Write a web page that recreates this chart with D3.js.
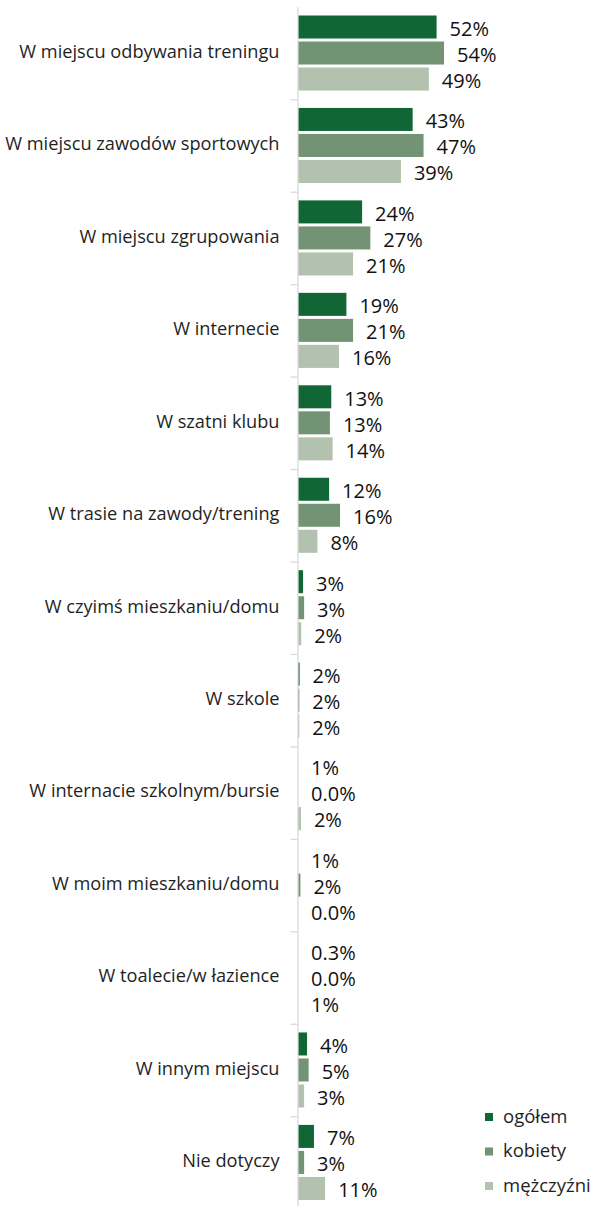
<!DOCTYPE html>
<html>
<head>
<meta charset="utf-8">
<script src="https://cdn.jsdelivr.net/npm/d3@7"></script>
<style>
  html, body { margin: 0; padding: 0; background: #ffffff; }
  svg { display: block; }
</style>
</head>
<body>
<script>
const categories = [
  "W miejscu odbywania treningu",
  "W miejscu zawodów sportowych",
  "W miejscu zgrupowania",
  "W internecie",
  "W szatni klubu",
  "W trasie na zawody/trening",
  "W czyimś mieszkaniu/domu",
  "W szkole",
  "W internacie szkolnym/bursie",
  "W moim mieszkaniu/domu",
  "W toalecie/w łazience",
  "W innym miejscu",
  "Nie dotyczy"
];
const seriesNames = ["ogółem", "kobiety", "mężczyźni"];
// bar lengths (%)
const ogolem    = [52.1, 43.1, 24.1, 18.2, 12.5, 11.7, 1.9, 0.6, 0, 0, 0, 3.4, 6.0];
const kobiety   = [54.9, 47.2, 27.2, 20.7, 12.0, 15.8, 2.3, 0.5, 0, 0.9, 0, 4.0, 2.3];
const mezczyzni = [49.2, 38.7, 20.7, 15.4, 13.0, 7.3, 1.2, 0.5, 1.1, 0, 0, 2.3, 10.2];
// data labels as printed
const ogolemLabels    = ["52%","43%","24%","19%","13%","12%","3%","2%","1%","1%","0.3%","4%","7%"];
const kobietyLabels   = ["54%","47%","27%","21%","13%","16%","3%","2%","0.0%","2%","0.0%","5%","3%"];
const mezczyzniLabels = ["49%","39%","21%","16%","14%","8%","2%","2%","2%","0.0%","1%","3%","11%"];

const colors = ["#106635", "#739474", "#b2c2ae"];

const W = 592, H = 1206;
const axisX = 297.5;
const topY = 6.8, step = 92.45;

const svg = d3.select("body").append("svg")
  .attr("width", W).attr("height", H)
  .style("font-family", "'Open Sans', 'Noto Sans', sans-serif");

const series = [
  { name: seriesNames[0], values: ogolem, labels: ogolemLabels, color: colors[0] },
  { name: seriesNames[1], values: kobiety, labels: kobietyLabels, color: colors[1] },
  { name: seriesNames[2], values: mezczyzni, labels: mezczyzniLabels, color: colors[2] }
];

const x = d3.scaleLinear().domain([0, 100]).range([axisX + 0.5, axisX + 0.5 + 266]);
const y0 = d3.scaleBand().domain(categories).range([topY, topY + step * categories.length]);
const y1 = d3.scaleBand().domain(seriesNames).range([8.7, step - 8.7]).paddingInner(3 / 26);

// bars
const groups = svg.append("g").selectAll("g")
  .data(categories)
  .join("g")
  .attr("transform", d => `translate(0,${y0(d)})`);

series.forEach(s => {
  groups.append("rect")
    .attr("x", x(0))
    .attr("y", y1(s.name))
    .attr("height", y1.bandwidth())
    .attr("width", (d, i) => x(s.values[i]) - x(0))
    .attr("fill", s.color);
  groups.append("text")
    .attr("x", (d, i) => x(s.values[i]) + 13)
    .attr("y", y1(s.name) + y1.bandwidth() / 2 + 8.8)
    .attr("font-size", 20)
    .attr("fill", "#111111")
    .text((d, i) => s.labels[i]);
});

// axis line with ticks between categories
const yb = d3.scaleLinear().domain([0, categories.length]).range([topY, topY + step * categories.length]);
const axisG = svg.append("g")
  .attr("transform", `translate(${axisX},0)`)
  .call(d3.axisLeft(yb).tickValues(d3.range(1, categories.length)).tickSize(7).tickSizeOuter(0).tickFormat(""));
axisG.select(".domain").attr("stroke", "#d9d9d9").attr("stroke-width", 1.3);
axisG.selectAll(".tick line").attr("stroke", "#d9d9d9").attr("stroke-width", 1.3);

// category labels
const labG = svg.append("g")
  .attr("transform", `translate(${axisX},0)`)
  .call(d3.axisLeft(y0).tickSize(0).tickPadding(18));
labG.select(".domain").remove();
labG.selectAll(".tick text")
  .attr("font-size", 18.2)
  .attr("fill", "#1f1f1f")
  .attr("font-family", "'Open Sans', 'Noto Sans', sans-serif")
  .attr("dy", 4.8)
  .attr("dominant-baseline", "auto");

// legend
const legendY = d3.scalePoint().domain(seriesNames).range([1117, 1186]);
const leg = svg.append("g").selectAll("g")
  .data(series)
  .join("g")
  .attr("transform", d => `translate(485,${legendY(d.name)})`);
leg.append("rect")
  .attr("x", 0).attr("y", -4).attr("width", 8).attr("height", 8)
  .attr("fill", d => d.color);
leg.append("text")
  .attr("x", 18).attr("y", 5.5)
  .attr("font-size", 18.5)
  .attr("fill", "#1f1f1f")
  .text(d => d.name);
</script>
</body>
</html>
